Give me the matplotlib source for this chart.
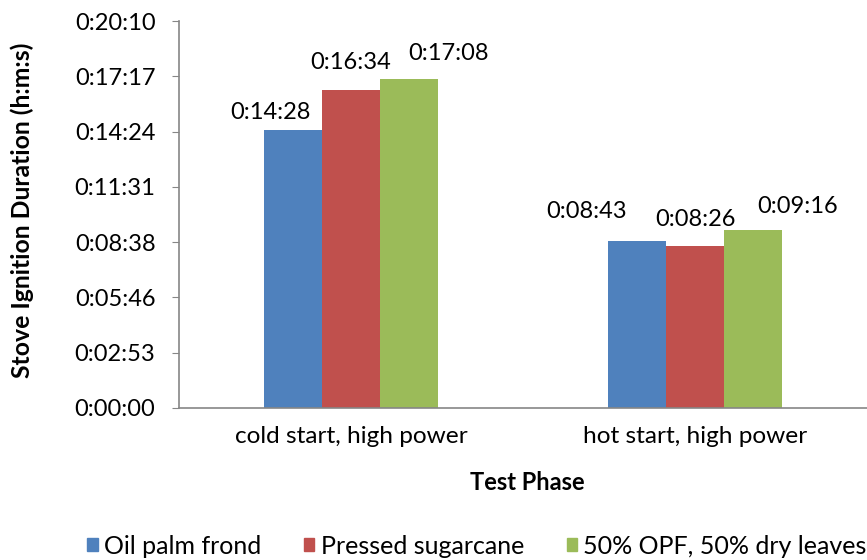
import matplotlib
matplotlib.use("Agg")
import matplotlib.pyplot as plt
import numpy as np
from matplotlib.ticker import FixedLocator, FuncFormatter

plt.rcParams['font.family'] = ['Lato', 'DejaVu Sans']

categories = ["cold start, high power", "hot start, high power"]
series_names = ["Oil palm frond", "Pressed sugarcane", "50% OPF, 50% dry leaves"]
# durations in seconds
oil_palm = [14*60+28, 8*60+43]
sugarcane = [16*60+34, 8*60+26]
opf_leaves = [17*60+8, 9*60+16]
colors = ["#4F81BD", "#C0504D", "#9BBB59"]
tick_step = 172.8  # 0.002 day

def fmt(s, pos=None):
    s = int(round(s))
    return f"{s//3600}:{(s%3600)//60:02d}:{s%60:02d}"

W, H = 867, 560
fig = plt.figure(figsize=(W/100, H/100), dpi=100)
ax = fig.add_axes([179/W, 1-408/H, 1-179/W, (408-21)/H])

x = np.arange(len(categories))
w = 0.168
allvals = [oil_palm, sugarcane, opf_leaves]
# label offsets (px) to mimic Excel placement
offs = [[(-22.5, 18), (-51, 29)], [(0, 27), (0, 27)], [(40, 26), (45, 24)]]
for i, (vals, c, name) in enumerate(zip(allvals, colors, series_names)):
    pos = x + (i-1)*w
    ax.bar(pos, vals, w, color=c, label=name, zorder=2)
    for j, (p, v) in enumerate(zip(pos, vals)):
        dx, dy = offs[i][j]
        ax.annotate(fmt(v), (p, v), xytext=(dx*0.72, dy*0.72), textcoords='offset points',
                    ha='center', va='center', fontsize=17, color='#000000')

ax.set_xlim(-0.5, 1.5)
ax.set_ylim(0, 7*tick_step)
ax.yaxis.set_major_locator(FixedLocator([k*tick_step for k in range(8)]))
ax.yaxis.set_major_formatter(FuncFormatter(fmt))
ax.set_xticks(x)
ax.set_xticklabels(categories, fontsize=17.6)
ax.tick_params(axis='x', length=0, pad=13)
ax.tick_params(axis='y', length=5, color='#868686', labelsize=17, pad=12, direction='out')
for s in ['top', 'right']:
    ax.spines[s].set_visible(False)
for s in ['left', 'bottom']:
    ax.spines[s].set_color('#868686')
    ax.spines[s].set_linewidth(1.2)

fig.text(527/W, 1-483/H, "Test Phase", fontsize=17, fontweight='bold', ha='center', va='center')
fig.text(22/W, 1-210/H, "Stove Ignition Duration (h:m:s)", fontsize=17.8, fontweight='bold',
         ha='center', va='center', rotation=90)

handles = [plt.Rectangle((0, 0), 1, 1, color=c) for c in colors]
fig.legend(handles, series_names, loc='center', bbox_to_anchor=(477/W, 1-546/H), ncol=3,
           frameon=False, fontsize=18, handlelength=0.42, handleheight=0.42,
           handletextpad=0.25, columnspacing=1.7, borderpad=0, borderaxespad=0)

fig.savefig("out.png", dpi=100)
